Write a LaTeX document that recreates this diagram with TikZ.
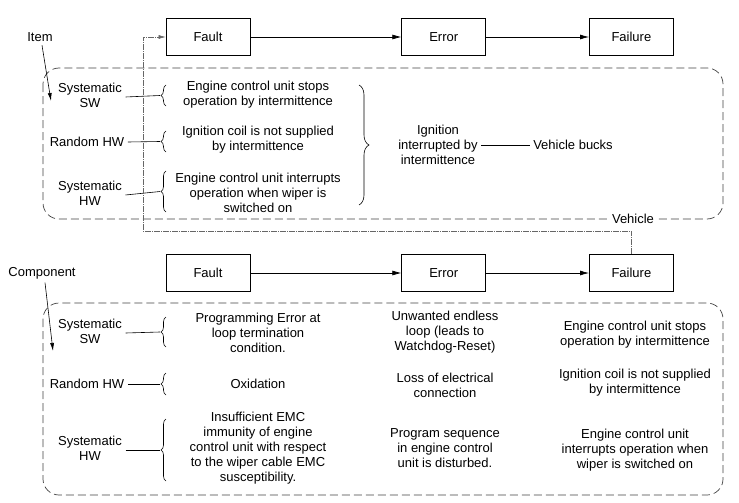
\documentclass[tikz,border=0pt]{standalone}
\usepackage{fontspec}
\setmainfont{Liberation Sans}
\usetikzlibrary{positioning,arrows.meta,decorations.pathreplacing}

\tikzset{
  stage node/.style={rectangle,draw,line width=0.7pt,minimum width=84pt,minimum height=37pt},
  txt node/.style={align=center,font=\fontsize{13}{15}\selectfont},
  level box/.style={draw=black!75,line width=0.7pt,dash pattern=on 8pt off 4pt,rounded corners=16pt},
  feedback/.style={draw=black!60,line width=0.6pt,dash pattern=on 6pt off 1pt on 1pt off 1pt},
  cbrace/.style={decorate,decoration={brace,amplitude=5pt},line width=0.6pt},
}

\begin{document}
\begin{tikzpicture}[x=1pt,y=-1pt,thick,>={Latex[length=9pt,width=5pt]},every node/.style={txt node}]
  \useasboundingbox (0,0) rectangle (739,503);

  % item level
  \node[stage node] (faultA) at (208,37) {Fault};
  \node[stage node] (errorA) [right=151pt of faultA] {Error};
  \node[stage node] (failA) [right=103pt of errorA] {Failure};
  \draw[->,line width=0.7pt] (faultA) -- (errorA);
  \draw[->,line width=0.7pt] (errorA) -- (failA);

  \draw[level box] (43,68) rectangle (723,219);
  \node[fill=white,inner sep=2pt] (vehicle) at (633,219) {Vehicle};

  \node (item) at (40,37) {Item};
  \coordinate (itemEnd) at (51,101);
  \draw[->,line width=0.6pt,>={Latex[length=8pt,width=4pt]}] (item.south) ++(2,0) -- (itemEnd);

  \node (sysSWa) at (90,95) {Systematic\\SW};
  \node (rndHWa) at (87,142) {Random HW};
  \node (sysHWa) at (90,193) {Systematic\\HW};

  \draw[cbrace] (166,106) -- (166,85) coordinate[midway] (bA1);
  \draw[cbrace] (166,152) -- (166,131) coordinate[midway] (bA2);
  \draw[cbrace] (166,212) -- (166,171) coordinate[midway] (bA3);
  \draw[line width=0.6pt] (sysSWa.east) ++(0,2) -- (bA1 -| 160,0);
  \draw[line width=0.6pt] (rndHWa.east) -- (bA2 -| 160,0);
  \draw[line width=0.6pt] (sysHWa.east) ++(0,2) -- (bA3 -| 160,0);

  \node (ecuStopA) at (258,95) {Engine control unit stops\\operation by intermittence};
  \node (coilA) at (258,140) {Ignition coil is not supplied\\by intermittence};
  \node (wiperA) at (258,193) {Engine control unit interrupts\\operation when wiper is\\switched on};

  \draw[cbrace,decoration={amplitude=10pt}] (359,85) -- (359,205);
  \node (ignition) at (438,145) {Ignition\\interrupted by\\intermittence};
  \node (bucks) at (573,145) {Vehicle bucks};
  \draw[line width=0.6pt] (ignition.east) -- (bucks.west);

  % component level
  \node[stage node] (faultB) at (208,273) {Fault};
  \node[stage node] (errorB) [right=151pt of faultB] {Error};
  \node[stage node] (failB) [right=103pt of errorB] {Failure};
  \draw[->,line width=0.7pt] (faultB) -- (errorB);
  \draw[->,line width=0.7pt] (errorB) -- (failB);

  % feedback from component failure to item fault
  \coordinate (fb) at (143,231);
  \draw[feedback,->,>={Latex[length=7pt,width=4pt]}] (failB.north) |- (fb) |- (faultA.west);

  \draw[level box] (43,303) rectangle (723,495);

  \node (component) at (42,273) {Component};
  \coordinate (compEnd) at (53,351);
  \draw[->,line width=0.6pt,>={Latex[length=8pt,width=4pt]}] (component.south) ++(3,0) -- (compEnd);

  \node (sysSWb) at (90,331) {Systematic\\SW};
  \node (rndHWb) at (87,384) {Random HW};
  \node (sysHWb) at (90,448) {Systematic\\HW};

  \draw[cbrace] (166,347) -- (166,317) coordinate[midway] (bB1);
  \draw[cbrace] (166,395) -- (166,373) coordinate[midway] (bB2);
  \draw[cbrace] (166,481) -- (166,419) coordinate[midway] (bB3);
  \draw[line width=0.6pt] (sysSWb.east) ++(0,2) -- (bB1 -| 160,0);
  \draw[line width=0.6pt] (rndHWb.east) -- (bB2 -| 160,0);
  \draw[line width=0.6pt] (sysHWb.east) ++(0,2) -- (bB3 -| 160,0);

  \node (progErr) at (258,333) {Programming Error at\\loop termination\\condition.};
  \node (oxid) at (258,384) {Oxidation};
  \node (emc) at (258,448) {Insufficient EMC\\immunity of engine\\control unit with respect\\to the wiper cable EMC\\susceptibility.};

  \node (loop) at (445,332) {Unwanted endless\\loop (leads to\\Watchdog-Reset)};
  \node (loss) at (445,385) {Loss of electrical\\connection};
  \node (seq) at (445,448) {Program sequence\\in engine control\\unit is disturbed.};

  \node (ecuStopB) at (635,335) {Engine control unit stops\\operation by intermittence};
  \node (coilB) at (635,383) {Ignition coil is not supplied\\by intermittence};
  \node (wiperB) at (635,450) {Engine control unit\\interrupts operation when\\wiper is switched on};
\end{tikzpicture}
\end{document}
